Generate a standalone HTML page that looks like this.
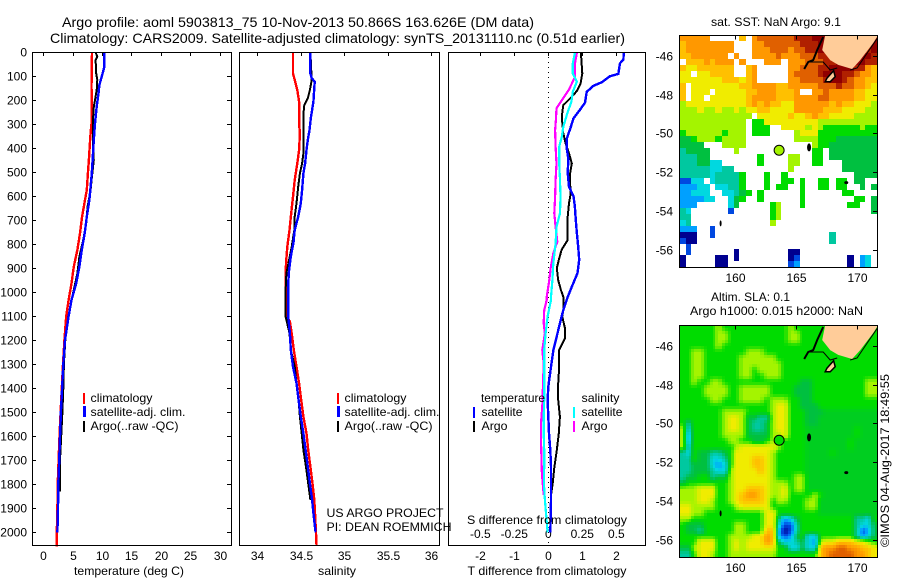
<!DOCTYPE html>
<html lang="en">
<head>
<meta charset="utf-8">
<title>Argo profile 5903813_75</title>
<style>
html,body{margin:0;padding:0;background:#fff;}
svg{display:block;}
text{font-family:"Liberation Sans",sans-serif;font-size:12px;fill:#000;}
.frame{fill:none;stroke:#000;stroke-width:1;shape-rendering:crispEdges;}
.bar{shape-rendering:crispEdges;}
</style>
</head>
<body>
<svg id="chart" xmlns="http://www.w3.org/2000/svg" width="900" height="580" viewBox="0 0 900 580">
<defs>
<clipPath id="clip-sst"><rect x="680" y="35" width="197" height="232"/></clipPath>
<clipPath id="clip-sla"><rect x="680" y="325" width="197" height="232"/></clipPath>
</defs>
<rect width="900" height="580" fill="#fff"/>
<text x="62" y="27" font-size="14" style="font-size:14px" textLength="472" lengthAdjust="spacingAndGlyphs">Argo profile: aoml 5903813_75 10-Nov-2013 50.866S 163.626E (DM data)</text>
<text x="50" y="43" style="font-size:14px" textLength="575" lengthAdjust="spacingAndGlyphs">Climatology: CARS2009. Satellite-adjusted climatology: synTS_20131110.nc (0.51d earlier)</text>

<g id="temp-panel"></g>
<g id="sal-panel"></g>
<g id="diff-panel"></g>
<g id="sst-map"></g>
<g id="sla-map"></g>

<rect class="frame" x="32.5" y="52.5" width="199" height="493"/>
<rect class="frame" x="239.5" y="52.5" width="200" height="493"/>
<rect class="frame" x="448.5" y="52.5" width="197" height="493"/>
<rect class="frame" x="679.5" y="35.5" width="198" height="232"/>
<rect class="frame" x="679.5" y="325.5" width="198" height="232"/>

<text x="129" y="575" text-anchor="middle" textLength="110" lengthAdjust="spacingAndGlyphs">temperature (deg C)</text>
<text x="337" y="575" text-anchor="middle" textLength="38" lengthAdjust="spacingAndGlyphs">salinity</text>
<text x="547" y="575" text-anchor="middle" textLength="159" lengthAdjust="spacingAndGlyphs">T difference from climatology</text>
<text x="547" y="524" text-anchor="middle" textLength="160" lengthAdjust="spacingAndGlyphs">S difference from climatology</text>

<g>
<rect class="bar" x="83" y="393" width="2" height="11" fill="#f00"/>
<rect class="bar" x="83" y="406" width="3" height="11" fill="#00f"/>
<rect class="bar" x="83" y="421" width="2" height="11" fill="#000"/>
<text x="90.5" y="402" textLength="62" lengthAdjust="spacingAndGlyphs">climatology</text>
<text x="90.5" y="416" textLength="95" lengthAdjust="spacingAndGlyphs">satellite-adj. clim.</text>
<text x="90.5" y="430" textLength="88" lengthAdjust="spacingAndGlyphs">Argo(..raw -QC)</text>
</g>
<g>
<rect class="bar" x="337" y="393" width="2" height="11" fill="#f00"/>
<rect class="bar" x="337" y="406" width="3" height="11" fill="#00f"/>
<rect class="bar" x="337" y="421" width="2" height="11" fill="#000"/>
<text x="344.5" y="402" textLength="62" lengthAdjust="spacingAndGlyphs">climatology</text>
<text x="344.5" y="416" textLength="95" lengthAdjust="spacingAndGlyphs">satellite-adj. clim.</text>
<text x="344.5" y="430" textLength="88" lengthAdjust="spacingAndGlyphs">Argo(..raw -QC)</text>
</g>
<text x="326.5" y="517" textLength="117" lengthAdjust="spacingAndGlyphs">US ARGO PROJECT</text>
<text x="326.5" y="531" textLength="125" lengthAdjust="spacingAndGlyphs">PI: DEAN ROEMMICH</text>

<g>
<text x="481" y="402" textLength="64" lengthAdjust="spacingAndGlyphs">temperature</text>
<rect class="bar" x="473" y="407" width="2" height="11" fill="#00f"/>
<rect class="bar" x="473" y="421" width="2" height="11" fill="#000"/>
<text x="481.5" y="416" textLength="41" lengthAdjust="spacingAndGlyphs">satellite</text>
<text x="481.5" y="430" textLength="26" lengthAdjust="spacingAndGlyphs">Argo</text>
<text x="581.5" y="402" textLength="38" lengthAdjust="spacingAndGlyphs">salinity</text>
<rect class="bar" x="573" y="407" width="2" height="11" fill="#0ff"/>
<rect class="bar" x="573" y="421" width="2" height="11" fill="#f0f"/>
<text x="581.5" y="416" textLength="41" lengthAdjust="spacingAndGlyphs">satellite</text>
<text x="581.5" y="430" textLength="26" lengthAdjust="spacingAndGlyphs">Argo</text>
</g>

<text x="711" y="26" textLength="130" lengthAdjust="spacingAndGlyphs">sat. SST: NaN Argo: 9.1</text>
<text x="711" y="301" textLength="79" lengthAdjust="spacingAndGlyphs">Altim. SLA: 0.1</text>
<text x="690" y="315" textLength="173" lengthAdjust="spacingAndGlyphs">Argo h1000: 0.015 h2000: NaN</text>
<text transform="translate(889 547) rotate(-90)" textLength="173" lengthAdjust="spacingAndGlyphs">©IMOS 04-Aug-2017 18:49:55</text>
</svg>

<script>
// ---------- axis ticks ----------
const depthTicks = [0,100,200,300,400,500,600,700,800,900,1000,1100,1200,1300,1400,1500,1600,1700,1800,1900,2000];
const tempTicks = [0,5,10,15,20,25,30];
const salTicks = [34,34.5,35,35.5,36];
const tDiffTicks = [-2,-1,0,1,2];
const sDiffTicks = [-0.5,-0.25,0,0.25,0.5];
const lonTicks = [160,165,170];
const latTicks = [-46,-48,-50,-52,-54,-56];

// ---------- temperature profiles (deg C) ----------
const tempClimDepth = [0,143,200,296,351,435,504,574,615,685,754,823,893,963,1032,1100,1200,1300,1400,1500,1600,1700,1800,1900,2000,2060];
const tempClimValue = [8.3,8.2,8.25,8.2,8.0,7.8,7.6,7.4,7.1,6.6,6.25,5.8,5.2,4.8,4.3,3.9,3.6,3.35,3.15,2.95,2.75,2.6,2.45,2.4,2.3,2.3];
const tempSatDepth = [0,60,102,136,171,226,296,365,449,504,574,615,685,754,823,893,963,1032,1100,1200,1300,1400,1500,1600,1700,1800,1900,2000];
const tempSatValue = [10.4,10.4,9.95,9.55,9.4,9.1,8.8,8.6,8.4,8.25,8.0,7.85,7.4,7.05,6.55,6.15,5.6,4.8,4.3,3.7,3.4,3.2,3.0,2.85,2.7,2.55,2.5,2.4];
const tempArgoDepth = [0,18,32,88,115,157,199,226,268,338,407,449,504,574,643,713,782,851,921,990,1032,1100,1200,1300,1400,1500,1600,1700,1830];
const tempArgoValue = [8.9,9.2,8.9,9.0,9.2,9.1,8.8,8.6,8.5,8.45,8.5,8.6,8.35,8.05,7.55,7.3,6.8,6.15,5.8,5.2,4.8,4.25,3.75,3.5,3.4,3.25,3.05,2.85,2.85];

// ---------- salinity profiles ----------
const salClimDepth = [0,88,115,157,206,296,338,407,463,532,602,671,741,810,880,949,1074,1100,1122,1171,1240,1310,1379,1449,1518,1588,1657,1727,1796,1865,1935,2004,2053];
const salClimValue = [34.41,34.41,34.43,34.46,34.48,34.48,34.49,34.48,34.46,34.43,34.41,34.39,34.37,34.345,34.33,34.325,34.325,34.34,34.375,34.395,34.42,34.45,34.48,34.505,34.53,34.565,34.585,34.61,34.635,34.655,34.665,34.675,34.68];
const salSatDepth = [0,88,108,122,206,240,275,324,365,407,463,504,574,629,685,741,796,851,907,963,1074,1101,1171,1240,1310,1379,1449,1518,1588,1657,1727,1796,1865,1935,2000];
const salSatValue = [34.61,34.61,34.625,34.66,34.645,34.63,34.615,34.6,34.58,34.565,34.55,34.53,34.515,34.5,34.47,34.43,34.415,34.385,34.365,34.355,34.355,34.355,34.375,34.385,34.41,34.45,34.475,34.5,34.53,34.555,34.58,34.605,34.63,34.65,34.67];
const salArgoDepth = [0,115,157,192,220,233,338,421,463,504,560,629,685,741,810,865,921,990,1074,1101,1171,1240,1310,1379,1449,1518,1588,1657,1727,1796,1865];
const salArgoValue = [34.61,34.625,34.605,34.58,34.54,34.535,34.53,34.53,34.515,34.49,34.47,34.45,34.43,34.425,34.395,34.365,34.335,34.325,34.325,34.325,34.37,34.385,34.43,34.45,34.475,34.49,34.51,34.53,34.56,34.585,34.61];

// ---------- differences from climatology ----------
const tDiffSatDepth = [0,30,46,90,100,125,140,165,210,240,275,320,360,400,445,500,560,600,640,700,755,810,865,920,960,1019,1074,1129,1171,1240,1310,1393,1449,1518,1588,1657,1727,1796,1865,1935,2000];
const tDiffSatValue = [2.22,2.21,2.11,2.06,1.81,1.57,1.32,1.13,1.08,0.93,0.74,0.64,0.54,0.54,0.59,0.57,0.61,0.74,0.78,0.81,0.84,0.88,0.91,0.86,0.74,0.57,0.44,0.34,0.27,0.15,0.08,0,-0.02,0,0.02,0.06,0.08,0.08,0.08,0.07,0.06];
const tDiffArgoDepth = [1,46,88,129,157,178,199,220,254,289,338,379,421,463,504,546,588,629,685,741,782,823,865,900,949,990,1019,1074,1101,1150,1192,1240,1310,1379,1449,1518,1588,1657,1727,1796,1845];
const tDiffArgoValue = [0.96,0.98,1.0,0.95,0.86,0.74,0.59,0.44,0.41,0.41,0.44,0.51,0.61,0.69,0.64,0.64,0.66,0.61,0.57,0.56,0.57,0.39,0.31,0.25,0.29,0.37,0.44,0.44,0.41,0.49,0.49,0.32,0.32,0.29,0.29,0.34,0.31,0.25,0.18,0.13,0.08];
const sDiffSatDepth = [1,46,88,122,164,206,254,310,351,393,463,532,602,671,727,796,880,949,1019,1032,1101,1171,1240,1310,1379,1449,1518,1588,1657,1727,1796,1865,1935,2000];
const sDiffSatValue = [0.196,0.18,0.18,0.21,0.18,0.17,0.14,0.11,0.1,0.08,0.08,0.086,0.09,0.086,0.06,0.054,0.037,0.03,0.02,0.02,-0.005,-0.02,-0.03,-0.03,-0.03,-0.03,-0.034,-0.034,-0.03,-0.03,-0.032,-0.025,-0.015,-0.005];
const sDiffArgoDepth = [1,46,101,122,157,199,233,282,324,393,463,532,602,671,727,789,838,900,949,1019,1032,1074,1129,1171,1240,1296,1476,1546,1615,1699,1754,1810,1845];
const sDiffArgoValue = [0.21,0.196,0.196,0.18,0.15,0.1,0.06,0.056,0.05,0.054,0.06,0.054,0.05,0.044,0.054,0.066,0.037,0.017,0.007,-0.012,-0.012,-0.03,-0.034,-0.025,-0.044,-0.034,-0.044,-0.054,-0.054,-0.05,-0.047,-0.039,-0.034];

// ---------- gridded maps: one character per cell, a colour level 0..d, g = 5.5, "." = no data ----------
const sstRows = [
"aaaaa.....9.abbbbbbcccdddcccccccd",
"9aaaaaaaa...aabbbbbbcccddddcccccd",
"9aaaaaaaa...aaabbbabbccdddccccccd",
"99aaaaaa.a..aaaabaaabbbccdddccddc",
".999a9aaa.a...aaa.aaabbbccdddddcc",
"988999999..9a.....aabbbccddddcca9",
"88.889999..9a.....abbbbcdddccbaa9",
"888888899989a.....aabbbbcddcbaa99",
"9.8888888899aaaa99aaaaabbbcbbaa98",
"9.888.8888899aaa999a..aabaaaa9988",
"9.88.8888889aaaa999aaaabbaaaa9988",
"788888888889a9a9988aaaaaa9a998887",
"7778778778788998888aaaaa999888877",
"777777777777.888889889a9988887777",
"77777777777.668888888887777777777",
"77777777777.666..8888787666666766",
"67777776777.666....78886666666666",
"55677767777........77776665555555",
"5555...7777...........76655555555",
"45555....7............66.55555555",
"44455........6....77..66.55555555",
"4445533......6....77..66...555555",
"444443344.........7........555555",
"44444344446...6..6...........5555",
"1133.344446...6..66.6..66.66.55..",
"22233.33446...6.66..6..66.66..5.5",
"22333..33456.6......6......66....",
"222233..356..6......6........66.5",
"222.....35.....67...6.......66..5",
"43......1......67...............5",
"44.............67................",
"34.............7.................",
"222..1...........................",
"000..1...................4.......",
"100......................4.......",
".1...............................",
".1.......0........00.............",
"0.....00.0........01........0.23.",
"0.....00..........12........0.23."
];
const slaRows = [
"666666766666666666766666666666666",
"666666776666666666776666666666666",
"666666776666666666776666666666666",
"666666766666666666666666666666666",
"667766666667776666666666666666666",
"667766666677777766666666666666666",
"667766666677777776666666666666666",
"667766666677677776666666666666666",
"667766666677667776666666666666666",
"667667766666666666665566666666677",
"666677776677777666655566666666677",
"666677776677777666655566666666677",
"666667766677776777665566666666666",
"666666666666666788665556666666666",
"666666677776666788666555ggggggggg",
"66666667887554478866655gggggggggg",
"64666667887544578866655gggggggggg",
"736666678875445788666gggggggg6ggg",
"726666677775555778666gggggggg6ggg",
"726666667766556776666ggggggg6gggg",
"736666666788888876666ggggggg6gggg",
"43655445688888876666" + "6gggg6ggggggg",
"44655334688899876666" + "6gggggggggggg",
"44555323688899876666" + "6gggggggggggg",
"44555433788889876666" + "6gggggggggggg",
"455664557888888766677gggggggggggg",
"566666667888888777677gggggggggggg",
"777888667889998778677gggggggggggg",
"77788866789aa98778666676ggggggggg",
"77788766789999867766677gggggggggg",
"88777766678888866666677gggggggggg",
"88776666666666886666666gggggggggg",
"776666666666668852356666666664436",
"655566666776668841146666666664335",
"655466666776669930146666666664125",
"66666666777788a931256336666664235",
"66688866787888a953345327889998876",
"557888667878888866335339aabbaa998",
"446887667777777766666669abbbbaa98"
];
// ---------- geography (degrees) ----------
const landLon = [167.40,167.16,167.81,168.47,169.61,170.27,171.34,171.75];
const landLat = [-44.92,-45.69,-46.21,-46.46,-46.67,-46.21,-45.33,-44.92];
const stewartLon = [167.54,168.09,168.22,167.81,167.40];
const stewartLat = [-47.15,-46.76,-47.07,-47.33,-47.33];
const westCoastLon = [165.68,166.01,166.42,166.75,167.24];
const westCoastLat = [-46.67,-46.31,-46.21,-45.69,-45.02];
const southCoastLon = [166.01,167.24,167.81,168.39];
const southCoastLat = [-46.31,-46.31,-46.72,-46.62];
const eastCoastLon = [169.45,170.02,170.84,171.75];
const eastCoastLat = [-46.72,-46.62,-45.85,-45.02];
const islandLon = [166.08,169.13,158.83];
const islandLat = [-50.72,-52.54,-54.64];
const argoLon = 163.626;
const argoLat = -50.866;
const sstArgoLevel = 7;
const slaArgoLevel = 6;

// ---------- helpers ----------
const SVGNS = 'http://www.w3.org/2000/svg';
function linear(d0,d1,r0,r1){ return v => r0 + (v-d0)*(r1-r0)/(d1-d0); }
const yDepth = linear(0,2000,52.3,532.3);
const xTemp = linear(0,30,43.3,219.5);
const xSal = linear(34,36,257.3,431.3);
const xTDiff = linear(0,2,548.3,616.3);
const xSDiff = linear(0,0.5,548.3,616.3);
const colourStops = [[0,0,144],[0,72,224],[0,160,255],[0,216,224],[0,200,160],[0,192,64],[0,220,0],[164,244,0],[240,236,0],[255,192,0],[255,152,0],[224,96,0],[176,32,0],[144,0,0]];
function levelOf(ch){
  if (ch === 'g') return 5.5;
  const n = parseInt(ch,16);
  return isNaN(n) ? null : n;
}
function colourOf(level){
  const i = Math.min(Math.floor(level),colourStops.length-2), f = level-i;
  const a = colourStops[i], b = colourStops[i+1];
  return 'rgb('+a.map((v,k)=>Math.round(v+(b[k]-v)*f)).join(',')+')';
}
function make(parent,tag,attrs,text){
  const el = document.createElementNS(SVGNS,tag);
  for (const k in attrs) el.setAttribute(k,attrs[k]);
  if (text !== undefined) el.textContent = text;
  parent.appendChild(el);
  return el;
}
function drawLine(parent,xs,ys,sx,colour,width,name){
  const pts = xs.map((v,i)=>sx(v).toFixed(1)+','+yDepth(ys[i]).toFixed(1)).join(' ');
  const el = make(parent,'polyline',{points:pts,fill:'none',stroke:colour,'stroke-width':width,'shape-rendering':'crispEdges'});
  
  
}
function tick(parent,x1,y1,x2,y2){
  const el = make(parent,'line',{x1,y1,x2,y2,stroke:'#000','stroke-width':1,'shape-rendering':'crispEdges'});
  
  
}
function label(parent,x,y,anchor,str){
  const el = make(parent,'text',{x,y,'text-anchor':anchor},str);
  
  
}

// ---------- temperature panel ----------
const tp = document.getElementById('temp-panel');
depthTicks.forEach(d=>{
  const y = Math.round(yDepth(d))+0.5;
  tick(tp,32,y,36,y); tick(tp,231,y,227,y);
  label(tp,27,y+4,'end',String(d));
});
tempTicks.forEach(t=>{
  const x = Math.round(xTemp(t))+0.5;
  tick(tp,x,52,x,56);
  label(tp,x,560,'middle',String(t));
});
drawLine(tp,tempClimValue,tempClimDepth,xTemp,'#f00',2.4,'temperature-climatology-line');
drawLine(tp,tempArgoValue,tempArgoDepth,xTemp,'#000',2,'temperature-argo-line');
drawLine(tp,tempSatValue,tempSatDepth,xTemp,'#00f',2.4,'temperature-satellite-line');

// ---------- salinity panel ----------
const sp = document.getElementById('sal-panel');
salTicks.forEach(s=>{
  const x = Math.round(xSal(s))+0.5;
  tick(sp,x,52,x,56);
  label(sp,x,560,'middle',String(s));
});
drawLine(sp,salClimValue,salClimDepth,xSal,'#f00',2.4,'salinity-climatology-line');
drawLine(sp,salArgoValue,salArgoDepth,xSal,'#000',2,'salinity-argo-line');
drawLine(sp,salSatValue,salSatDepth,xSal,'#00f',2.4,'salinity-satellite-line');

// ---------- difference panel ----------
const dp = document.getElementById('diff-panel');
tDiffTicks.forEach(t=>{
  const x = Math.round(xTDiff(t))+0.5;
  tick(dp,x,52,x,56);
  label(dp,x,560,'middle',String(t));
});
sDiffTicks.forEach(s=>{
  label(dp,xSDiff(s),538,'middle',String(s));
});
const zero = make(dp,'line',{x1:548.5,y1:52,x2:548.5,y2:545,stroke:'#000','stroke-width':1,'stroke-dasharray':'1 4','shape-rendering':'crispEdges'});


drawLine(dp,tDiffArgoValue,tDiffArgoDepth,xTDiff,'#000',2,'t-difference-argo-line');
drawLine(dp,tDiffSatValue,tDiffSatDepth,xTDiff,'#00f',2.4,'t-difference-satellite-line');
drawLine(dp,sDiffArgoValue,sDiffArgoDepth,xSDiff,'#f0f',2.2,'s-difference-argo-line');
drawLine(dp,sDiffSatValue,sDiffSatDepth,xSDiff,'#0ff',2.2,'s-difference-satellite-line');

// ---------- maps ----------
const lonMin = 155.46, lonMax = 171.69, latTop = -44.93, latBottom = -56.91;
function drawMap(groupId,clipId,rows,top,argoLevel,prefix,subdivide){
  const g = document.getElementById(groupId);
  const sx = linear(lonMin,lonMax,679.5,877.5);
  const sy = linear(latTop,latBottom,top,top+232);
  const nRows = rows.length, nCols = rows[0].length;
  const dLon = (lonMax-lonMin)/nCols, dLat = (latTop-latBottom)/nRows;
  const cells = make(g,'g',{'clip-path':'url(#'+clipId+')'});
  
  
  const at = (r,c)=>levelOf(rows[Math.max(0,Math.min(nRows-1,r))][Math.max(0,Math.min(nCols-1,c))]);
  const sampled = (v,u)=>{
    const r0 = Math.floor(v-0.5), c0 = Math.floor(u-0.5);
    const fr = v-0.5-r0, fc = u-0.5-c0;
    return (at(r0,c0)*(1-fc)+at(r0,c0+1)*fc)*(1-fr)+(at(r0+1,c0)*(1-fc)+at(r0+1,c0+1)*fc)*fr;
  };
  for (let r=0;r<nRows*subdivide;r++){
    for (let c=0;c<nCols*subdivide;c++){
      const v = (r+0.5)/subdivide, u = (c+0.5)/subdivide;
      let level;
      if (subdivide === 1) level = levelOf(rows[r][c]); else level = sampled(v,u);
      if (level === null) continue;
      const x0 = Math.round(sx(lonMin+c/subdivide*dLon)), x1 = Math.round(sx(lonMin+(c+1)/subdivide*dLon));
      const y0 = Math.round(sy(latTop-r/subdivide*dLat)), y1 = Math.round(sy(latTop-(r+1)/subdivide*dLat));
      const cell = make(cells,'rect',{x:x0,y:y0,width:x1-x0,height:y1-y0,fill:colourOf(level),'shape-rendering':'crispEdges'});
      
      
    }
  }
  const path = (lons,lats,close)=>lons.map((v,i)=>(i?'L':'M')+sx(v).toFixed(1)+' '+sy(lats[i]).toFixed(1)).join(' ')+(close?' Z':'');
  const geo = make(g,'g',{'clip-path':'url(#'+clipId+')'});
  
  
  const land = make(geo,'path',{d:path(landLon,landLat,true),fill:'#ffcc99',stroke:'none'});
  
  
  const stewart = make(geo,'path',{d:path(stewartLon,stewartLat,true),fill:'#ffcc99',stroke:'#000','stroke-width':1.5});
  
  
  const west = make(geo,'path',{d:path(westCoastLon,westCoastLat,false),fill:'none',stroke:'#000','stroke-width':2});
  
  
  const south = make(geo,'path',{d:path(southCoastLon,southCoastLat,false),fill:'none',stroke:'#000','stroke-width':1});
  
  
  const east = make(geo,'path',{d:path(eastCoastLon,eastCoastLat,false),fill:'none',stroke:'#000','stroke-width':1});
  
  
  islandLon.forEach((lon,i)=>{
    const radii = i===0?[2,4]:i===1?[2,1.5]:[1,3];
    const isl = make(geo,'ellipse',{cx:sx(lon),cy:sy(islandLat[i]),rx:radii[0],ry:radii[1],fill:'#000'});
    
    
  });
  const dot = make(g,'circle',{cx:sx(argoLon),cy:sy(argoLat),r:5,fill:colourOf(argoLevel),stroke:'#000','stroke-width':1});
  
  
  lonTicks.forEach(lon=>{
    const x = Math.round(sx(lon))+0.5;
    tick(g,x,top,x,top+4);
    label(g,x,top+246.5,'middle',String(lon));
  });
  latTicks.forEach(lat=>{
    const y = Math.round(sy(lat))+0.5;
    tick(g,877,y,873,y);
    label(g,673,y+4,'end',String(lat));
  });
}
drawMap('sst-map','clip-sst',sstRows,35.3,sstArgoLevel,'sst',1);
drawMap('sla-map','clip-sla',slaRows,325.3,slaArgoLevel,'sla',2);
</script>
</body>
</html>
